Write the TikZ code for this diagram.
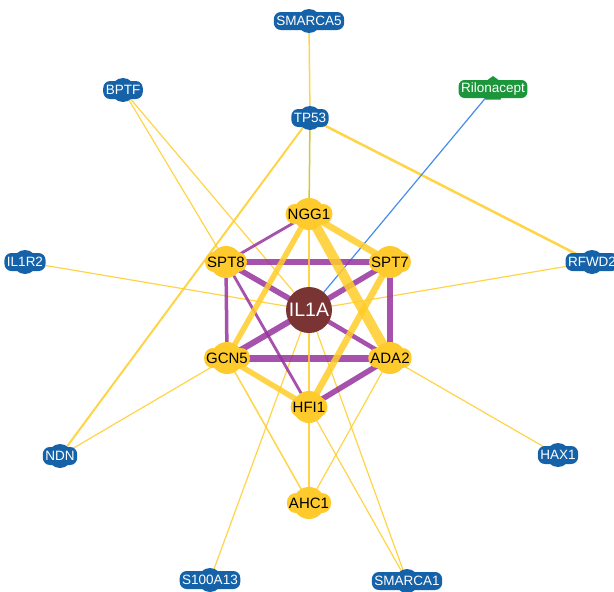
\documentclass[tikz,border=0pt]{standalone}
\usepackage{fontspec}
\setmainfont{Liberation Sans}
\usetikzlibrary{backgrounds,shapes.geometric}
\definecolor{gblue}{RGB}{22,98,168}
\definecolor{ggreen}{RGB}{28,150,58}
\definecolor{gyel}{RGB}{255,202,44}
\definecolor{gil}{RGB}{122,52,52}
\definecolor{epur}{RGB}{150,50,158}
\definecolor{eyel}{RGB}{255,205,40}
\definecolor{eolive}{RGB}{205,200,60}
\definecolor{eblue}{RGB}{70,140,240}
\begin{document}
\begin{tikzpicture}[x=1pt,y=-1pt,
  gene/.style={fill=gblue, text=white, rounded corners=7pt, minimum height=18pt,
    inner xsep=2.5pt, inner ysep=1pt, font=\fontsize{13.5}{15}\selectfont},
  bumpb/.style={fill=gblue},
  drug/.style={fill=ggreen, text=white, rounded corners=6pt, minimum height=18pt,
    inner xsep=2.5pt, inner ysep=1pt, font=\fontsize{13.5}{15}\selectfont},
  hub/.style={fill=gyel, text=black, rounded corners=9pt, minimum height=20pt,
    inner xsep=2pt, inner ysep=1pt, font=\fontsize{15}{17}\selectfont},
  bumpy/.style={fill=gyel},
  query/.style={circle, fill=gil, text=white, minimum size=46pt, inner sep=0pt,
    font=\fontsize{19.5}{21}\selectfont},
  pe/.style={draw=epur, draw opacity=.85, line width=#1},
  ye/.style={draw=eyel, draw opacity=.85, line width=#1},
  ye/.default=1.2pt,
  oe/.style={draw=eolive, line width=#1},
  be/.style={draw=eblue, line width=#1}
]
\useasboundingbox (0,0) rectangle (614,592);
\clip (0,0) rectangle (614,592);
% positions
\coordinate (pSMARCA5) at (309,21);
\coordinate (pTP53) at (310,118);
\coordinate (pRIL) at (493,89);
\coordinate (pBPTF) at (123,90);
\coordinate (pIL1R2) at (25,262);
\coordinate (pRFWD2) at (592,262);
\coordinate (pNDN) at (60,456);
\coordinate (pHAX1) at (558,455);
\coordinate (pS100A13) at (210,580);
\coordinate (pSMARCA1) at (407,581);
\coordinate (pNGG1) at (309,214);
\coordinate (pSPT8) at (226,262);
\coordinate (pSPT7) at (390,262);
\coordinate (pIL1A) at (309,310);
\coordinate (pGCN5) at (227,358);
\coordinate (pADA2) at (390,358);
\coordinate (pHFI1) at (309,407);
\coordinate (pAHC1) at (309,503);
% bumps behind the labels
\foreach \p in {SMARCA5,TP53,BPTF,IL1R2,RFWD2,NDN,HAX1,S100A13,SMARCA1}
  \fill[bumpb] (p\p) circle (12pt);
\foreach \p in {NGG1,SPT8,SPT7,GCN5,ADA2,HFI1,AHC1}
  \fill[bumpy] (p\p) circle (16pt);
\node[regular polygon, regular polygon sides=5, fill=ggreen, minimum size=26pt, inner sep=0pt] (rilbump) at (pRIL) {};
% nodes
\node[gene] (SMARCA5) at (pSMARCA5) {SMARCA5};
\node[gene] (TP53) at (pTP53) {TP53};
\node[drug] (RIL) at (pRIL) {Rilonacept};
\node[gene] (BPTF) at (pBPTF) {BPTF};
\node[gene] (IL1R2) at (pIL1R2) {IL1R2};
\node[gene] (RFWD2) at (pRFWD2) {RFWD2};
\node[gene] (NDN) at (pNDN) {NDN};
\node[gene] (HAX1) at (pHAX1) {HAX1};
\node[gene] (S100A13) at (pS100A13) {S100A13};
\node[gene] (SMARCA1) at (pSMARCA1) {SMARCA1};
\node[hub] (NGG1) at (pNGG1) {NGG1};
\node[hub] (SPT8) at (pSPT8) {SPT8};
\node[hub] (SPT7) at (pSPT7) {SPT7};
\node[hub] (GCN5) at (pGCN5) {GCN5};
\node[hub] (ADA2) at (pADA2) {ADA2};
\node[hub] (HFI1) at (pHFI1) {HFI1};
\node[hub] (AHC1) at (pAHC1) {AHC1};
\node[query] (IL1A) at (pIL1A) {IL1A};
% edges
\begin{pgfonlayer}{background}
  % outer thin links
  \draw[ye=1.5pt] (SMARCA5.center) -- (TP53.center);
  \draw[oe=1.5pt] (TP53.center) -- (NGG1.center);
  \draw[ye=2pt] (TP53.center) -- (NDN.center);
  \draw[ye=2.5pt] (TP53.center) -- (RFWD2.center);
  \draw[ye] (BPTF.center) -- (SPT8.center);
  \draw[ye] (BPTF.center) -- (IL1A.center);
  \draw[ye] (IL1R2.center) -- (IL1A.center);
  \draw[ye] (RFWD2.center) -- (IL1A.center);
  \draw[ye] (NDN.center) -- (GCN5.center);
  \draw[ye] (HAX1.center) -- (ADA2.center);
  \draw[ye] (S100A13.center) -- (IL1A.center);
  \draw[ye] (SMARCA1.center) -- (IL1A.center);
  \draw[ye] (SMARCA1.center) -- (HFI1.center);
  \draw[ye=1.5pt] (GCN5.center) -- (AHC1.center);
  \draw[ye=1.2pt] (ADA2.center) -- (AHC1.center);
  \draw[ye=2pt] (HFI1.center) -- (AHC1.center);
  \draw[be=1.2pt] (RIL.center) -- (IL1A.center);
  % purple links
  \draw[pe=2.8pt] (NGG1.center) -- (SPT8.center);
  \draw[pe=6.5pt] (SPT8.center) -- (SPT7.center);
  \draw[pe=5.5pt] (SPT8.center) -- (IL1A.center);
  \draw[pe=4.5pt] (IL1A.center) -- (ADA2.center);
  \draw[pe=6pt] (GCN5.center) -- (IL1A.center);
  \draw[pe=5.5pt] (IL1A.center) -- (SPT7.center);
  \draw[pe=3.5pt] (SPT8.center) -- (GCN5.center);
  \draw[pe=6.5pt] (SPT7.center) -- (ADA2.center);
  \draw[pe=7pt] (GCN5.center) -- (ADA2.center);
  \draw[pe=2.8pt] (SPT8.center) -- (HFI1.center);
  \draw[pe=5.5pt] (HFI1.center) -- (ADA2.center);
  % yellow links of the core
  \draw[ye=6.5pt] (NGG1.center) -- (SPT7.center);
  \draw[ye=10pt] (NGG1.center) -- (ADA2.center);
  \draw[ye=5.5pt] (NGG1.center) -- (GCN5.center);
  \draw[ye=2pt] (NGG1.center) -- (IL1A.center);
  \draw[ye=2pt] (IL1A.center) -- (HFI1.center);
  \draw[ye=6.5pt] (SPT7.center) -- (HFI1.center);
  \draw[ye=5.5pt] (GCN5.center) -- (HFI1.center);
\end{pgfonlayer}
\end{tikzpicture}
\end{document}
